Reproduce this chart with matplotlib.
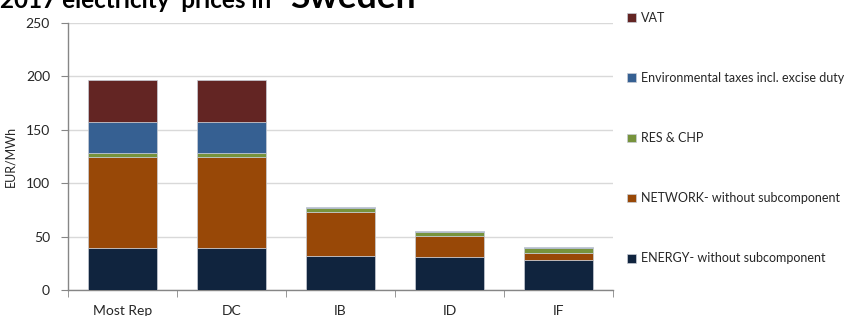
import matplotlib
matplotlib.use("Agg")
import matplotlib.pyplot as plt
import numpy as np

plt.rcParams['font.family'] = ['Lato', 'DejaVu Sans']

categories = ["Most Rep", "DC", "IB", "ID", "IF"]
energy = [39, 39, 32, 31, 28.5]
network = [85.5, 85.5, 41.5, 20, 6.5]
res_chp = [3.5, 3.5, 3, 3.5, 4]
env_taxes = [29.5, 29.5, 1, 0.8, 1]
vat = [39, 39, 0, 0, 0]

series_names = ["ENERGY- without subcomponent", "NETWORK- without subcomponent",
                "RES & CHP", "Environmental taxes incl. excise duty", "VAT"]
series_vals = [energy, network, res_chp, env_taxes, vat]
colors = ["#10243E", "#984807", "#77933C", "#366092", "#632523"]

fig = plt.figure(figsize=(8.48, 3.16), dpi=100)
ax = fig.add_axes([68/848, 1-290/316, (613-68)/848, (290-23)/316])

x = np.arange(len(categories))
bottom = np.zeros(len(categories))
handles = []
for name, vals, c in zip(series_names, series_vals, colors):
    vals = np.array(vals, dtype=float)
    b = ax.bar(x, vals, width=0.64, bottom=bottom, color=c, edgecolor="#C8CDD6",
               linewidth=0.5, label=name, zorder=3)
    handles.append(b)
    bottom += vals

ax.set_xlim(-0.5, len(categories)-0.5)
ax.set_ylim(0, 250)
ax.set_yticks(np.arange(0, 251, 50))
ax.yaxis.grid(True, color="#D9D9D9", linewidth=1, zorder=0)
ax.set_axisbelow(True)
for s in ["top", "right"]:
    ax.spines[s].set_visible(False)
for s in ["left", "bottom"]:
    ax.spines[s].set_color("#868686")
    ax.spines[s].set_linewidth(1)

ax.set_xticks(x)
ax.set_xticklabels(categories, fontsize=10, color="#262626")
ax.tick_params(axis="x", length=0, pad=11)
ax.set_xticks(np.arange(-0.5, len(categories), 1), minor=True)
ax.tick_params(axis="x", which="minor", length=5, color="#868686", direction="out")
ax.tick_params(axis="y", length=5, color="#868686", labelsize=10, labelcolor="#262626", pad=8)
ax.set_ylabel("EUR/MWh", fontsize=9, color="#262626", labelpad=7)

leg = fig.legend(handles=handles[::-1], labels=series_names[::-1],
                 loc="upper left", bbox_to_anchor=(622/848, 1-7/316),
                 frameon=False, fontsize=9, labelspacing=3.85,
                 handlelength=0.7, handleheight=0.7, handletextpad=0.4,
                 borderaxespad=0)
for t in leg.get_texts():
    t.set_color("#262626")

fig.text(0.0, 1-8/316, "2017 electricity  prices in", fontsize=17.5, fontweight="bold",
         va="baseline", ha="left", color="black")
fig.text(290/848, 1-8/316, "Sweden", fontsize=25.5, fontweight="bold",
         va="baseline", ha="left", color="black")

fig.savefig("out.png", dpi=100)
